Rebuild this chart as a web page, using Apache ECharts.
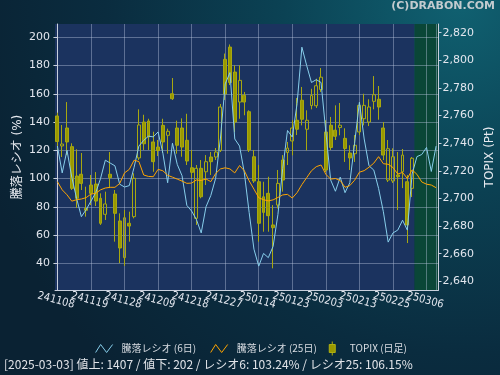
<!DOCTYPE html>
<html><head><meta charset="utf-8">
<script src="https://cdn.jsdelivr.net/npm/echarts@6/dist/echarts.min.js"></script>
<style>html,body{margin:0;padding:0;background:#0a2233;}#c{width:500px;height:375px;}</style>
</head><body><div id="c"></div>
<script>
const categories = ['241108','241111','241112','241113','241114','241115','241118','241119','241120','241121',
'241122','241125','241126','241127','241128','241129','241202','241203','241204','241205',
'241206','241209','241210','241211','241212','241213','241216','241217','241218','241219',
'241220','241223','241224','241225','241226','241227','241230','250106','250107','250108',
'250109','250110','250114','250115','250116','250117','250120','250121','250122','250123',
'250124','250127','250128','250129','250130','250131','250203','250204','250205','250206',
'250207','250210','250212','250213','250214','250217','250218','250219','250220','250221',
'250225','250226','250227','250228','250303','250304','250305','250306','250307','250310'];

const ratio6 = [123,104,120,101,86,73,78,84,90,100,
113,111,109,96,94,95,108,123,127,130,
129.5,133,118,97,125,110,102,81,77,71,
61.5,80,88,100,128,167,175,128,123,104,
76,50,38,47,44,52,74.5,107,134,129.4,
153,193,180,168,170,168,133,99,91,101,
90,97,125,154,128,109,106,93,76.5,55,
61.5,63.5,70.5,63.5,103.24,115.5,117,122,105,123];

const ratio25 = [97.8,92,88.5,84,85,85.5,86.5,89,89.5,92,
93.3,93.8,93.8,96.5,104,106.5,113,112,102.5,101.5,
101.3,106.5,105.5,102.3,101,99.6,98.2,96.6,96.8,99,
98.6,99.7,97.8,103.5,106.8,107.6,106.8,104,109.2,105.5,
98.4,92.5,86.4,85,84.2,84.9,86.6,88.4,88.8,86.2,
90,95.7,100.6,105.5,108.4,109.6,103,99.6,100,98.6,
93.8,95,98.8,104.5,105.6,108,110.9,115.5,110.5,110.1,
107.8,103.2,104.3,100,106.15,103,97.6,96,95.4,93.5];

const topixOpen = [2759.7,2738.0,2751.0,2737.5,2716.2,2717.5,2692.8,2709.7,2710.4,2700.1,
2688.5,2717.5,2703.2,2683.7,2657.1,2682.0,2686.8,2729.3,2755.3,2756.1,
2740.9,2737.2,2752.9,2745.7,2775.8,2751.0,2751.0,2742.1,2722.2,2685.6,
2721.8,2719.3,2730.0,2730.0,2734.8,2800.7,2809.6,2791.5,2769.8,2774.7,
2762.8,2730.2,2712.1,2701.2,2703.7,2680.8,2695.2,2727.8,2733.3,2741.6,
2756.6,2771.1,2750.1,2767.3,2767.1,2778.9,2748.1,2753.0,2749.4,2751.3,
2743.5,2732.9,2732.4,2748.1,2757.7,2755.3,2770.3,2771.8,2751.0,2713.3,
2712.6,2717.0,2719.3,2712.1,2707.3];
const topixClose = [2741.2,2739.4,2740.9,2707.3,2700.1,2710.9,2691.4,2703.7,2698.1,2682.0,
2696.0,2715.0,2689.2,2664.1,2686.0,2680.0,2714.6,2753.2,2739.6,2744.5,
2726.6,2734.7,2740.9,2748.6,2772.2,2738.5,2737.2,2727.1,2718.9,2721.8,
2701.2,2726.6,2726.6,2733.6,2766.2,2775.6,2783.9,2755.3,2785.5,2769.8,
2735.1,2712.6,2682.0,2689.9,2687.5,2678.8,2710.9,2713.3,2736.5,2751.0,
2750.1,2757.3,2756.6,2774.5,2781.6,2787.8,2720.6,2736.9,2745.0,2753.0,
2736.1,2729.3,2738.5,2767.4,2767.4,2766.2,2775.1,2766.2,2731.4,2736.0,
2730.2,2715.7,2731.4,2680.8,2729.1];
const topixLow = [2735.1,2730.0,2731.4,2706.1,2693.1,2706.1,2686.8,2695.2,2694.5,2680.8,
2684.4,2707.5,2668.7,2653.2,2651.2,2668.7,2685.6,2727.8,2735.1,2735.1,
2719.3,2730.7,2732.9,2732.4,2771.3,2732.4,2730.2,2724.2,2714.8,2680.8,
2700.1,2709.7,2717.0,2727.8,2733.6,2771.3,2782.1,2748.1,2757.7,2760.2,
2733.6,2711.2,2668.7,2675.9,2675.9,2649.4,2692.8,2704.9,2724.2,2731.2,
2745.9,2752.9,2734.8,2764.5,2765.5,2777.1,2719.1,2735.1,2742.3,2745.7,
2726.4,2720.6,2726.4,2745.9,2752.9,2752.4,2764.5,2757.0,2727.8,2711.9,
2711.2,2691.6,2707.5,2667.7,2701.0];
const topixHigh = [2762.1,2753.2,2769.8,2739.9,2735.6,2732.9,2708.5,2717.0,2719.1,2703.7,
2704.9,2733.6,2706.1,2689.2,2691.6,2690.4,2718.2,2764.5,2760.6,2757.7,
2748.3,2742.3,2757.7,2750.5,2787.2,2756.3,2758.0,2761.3,2735.1,2724.2,
2727.8,2731.4,2733.6,2736.5,2768.4,2804.9,2811.5,2796.4,2796.4,2777.1,
2763.8,2735.1,2724.2,2712.1,2715.7,2695.2,2720.6,2731.4,2740.9,2756.6,
2772.7,2780.7,2763.8,2779.4,2786.7,2794.4,2756.6,2759.0,2767.4,2769.1,
2750.8,2738.5,2745.9,2769.8,2775.8,2771.8,2788.6,2781.4,2755.3,2742.3,
2736.3,2733.6,2735.8,2717.0,2730.0];

const seriesNames = ['騰落レシオ (6日)', '騰落レシオ (25日)', 'TOPIX (日足)'];
const leftAxisName = '騰落レシオ (%)';
const rightAxisName = 'TOPIX (Pt)';
const leftRange = [21.1, 209.4];
const rightRange = [2633.7, 2826.3];
const labelStep = 7;
const latestDate = '2025-03-03';
const advances = 1407;
const declines = 202;
const ratio6Latest = 103.24;
const ratio25Latest = 106.15;
const copyright = '(C)DRABON.COM';

const FONT = "'DejaVu Sans', 'Noto Sans CJK JP', sans-serif";
const CJK = "'Noto Sans CJK JP', 'DejaVu Sans', sans-serif";
const lastDataIndex = topixOpen.length - 1;
const candleData = topixOpen.map((o, i) => [o, topixClose[i], topixLow[i], topixHigh[i]]);
const infoText = '[' + latestDate + '] 値上: ' + advances + ' / 値下: ' + declines +
  ' / レシオ6: ' + ratio6Latest.toFixed(2) + '% / レシオ25: ' + ratio25Latest.toFixed(2) + '%';

const gridColor = 'rgba(185,198,222,0.42)';
const axisColor = '#c9d0dc';
const labelColor = '#e2e6ee';

const chart = echarts.init(document.getElementById('c'), null, {renderer: 'canvas'});
chart.setOption({
  animation: false,
  backgroundColor: {
    type: 'radial', x: 0.92, y: 0, r: 1.35,
    colorStops: [
      {offset: 0, color: '#106171'},
      {offset: 0.35, color: '#0b4254'},
      {offset: 0.7, color: '#0a2c3f'},
      {offset: 1, color: '#0a2233'}
    ]
  },
  grid: {left: 55, right: 61.5, top: 24, bottom: 85, containLabel: false, outerBoundsMode: 'none'},
  legend: {
    top: 336, left: 'center', itemGap: 12, itemWidth: 17, itemHeight: 14,
    textStyle: {color: '#d8dce2', fontSize: 10, fontFamily: CJK, padding: [0, 0, 0, 4]},
    data: [
      {name: seriesNames[0], icon: 'path://M0,9 L5,1 L11,9 L17,1',
       itemStyle: {color: 'none', borderColor: '#87CEEB', borderWidth: 1}},
      {name: seriesNames[1], icon: 'path://M0,9 L5,1 L11,9 L17,1',
       itemStyle: {color: 'none', borderColor: '#FFA500', borderWidth: 1}},
      {name: seriesNames[2], icon: 'path://M3,0 L3,3 M0,3 L6,3 L6,11 L0,11 Z M3,11 L3,14',
       itemStyle: {color: '#999900', borderColor: '#b0b010', borderWidth: 1}}
    ]
  },
  xAxis: [{
    type: 'category', data: categories, boundaryGap: true,
    axisLine: {lineStyle: {color: axisColor}},
    axisTick: {alignWithLabel: true, interval: labelStep - 1, length: 4, lineStyle: {color: axisColor}},
    axisLabel: {interval: 0, rotate: -15, align: 'center', verticalAlign: 'top', margin: 5, hideOverlap: false,
      formatter: (value, index) => (index % labelStep === 0 ? value : ''),
      color: labelColor, fontSize: 11, fontFamily: "'DejaVu Sans Condensed', 'DejaVu Sans', sans-serif"},
    splitLine: {show: true, interval: labelStep - 1, alignWithLabel: true, lineStyle: {color: gridColor, width: 1}}
  }, {
    type: 'value', min: -0.5, max: categories.length - 0.5, show: false
  }],
  yAxis: [{
    type: 'value', position: 'left', min: leftRange[0], max: leftRange[1], splitNumber: 9,
    name: leftAxisName, nameLocation: 'middle', nameGap: 31, nameMoveOverlap: false,
    nameTextStyle: {color: '#e6e9ef', fontSize: 12, fontFamily: FONT},
    axisLine: {show: true, lineStyle: {color: axisColor}},
    axisTick: {show: true, length: 4, lineStyle: {color: axisColor}},
    axisLabel: {color: labelColor, fontSize: 11, fontFamily: FONT, margin: 5, showMinLabel: false, showMaxLabel: false},
    splitLine: {show: true, showMinLine: false, showMaxLine: false, lineStyle: {color: gridColor, width: 1}}
  }, {
    type: 'value', position: 'right', min: rightRange[0], max: rightRange[1], splitNumber: 10,
    name: rightAxisName, nameLocation: 'middle', nameGap: 45, nameMoveOverlap: false,
    nameTextStyle: {color: '#e6e9ef', fontSize: 12, fontFamily: FONT},
    axisLine: {show: true, lineStyle: {color: axisColor}},
    axisTick: {show: true, length: 3, lineStyle: {color: axisColor}},
    axisLabel: {color: labelColor, fontSize: 11, fontFamily: FONT, margin: 4, showMinLabel: false, showMaxLabel: false},
    splitLine: {show: false}
  }],
  series: [{
    name: 'bg', type: 'line', xAxisIndex: 1, yAxisIndex: 0, data: [], silent: true, z: -1,
    markArea: {
      silent: true, z: -1,
      data: [
        [{xAxis: -0.5, itemStyle: {color: '#1b335f'}}, {xAxis: lastDataIndex + 0.5}],
        [{xAxis: lastDataIndex + 0.5, itemStyle: {color: '#0a4637'}}, {xAxis: categories.length - 0.5}]
      ]
    }
  }, {
    name: seriesNames[2], type: 'candlestick', xAxisIndex: 0, yAxisIndex: 1,
    data: candleData, barWidth: 3.4,
    itemStyle: {color: 'transparent', color0: '#999900', borderColor: '#a8a810', borderColor0: '#a8a810', borderWidth: 1}
  }, {
    name: seriesNames[0], type: 'line', xAxisIndex: 0, yAxisIndex: 0, data: ratio6,
    symbol: 'none', lineStyle: {color: '#87CEEB', width: 1}, itemStyle: {color: '#87CEEB'}
  }, {
    name: seriesNames[1], type: 'line', xAxisIndex: 0, yAxisIndex: 0, data: ratio25,
    symbol: 'none', lineStyle: {color: '#FFA500', width: 1}, itemStyle: {color: '#FFA500'}
  }],
  graphic: [
    {type: 'text', right: 5, top: 1, style: {text: copyright, fill: '#c3cbcf', font: "bold 11px 'DejaVu Sans'"}},
    {type: 'text', left: 4, top: 358, style: {text: infoText, fill: '#e0e3e8', font: "12px 'Noto Sans CJK JP'"}}
  ]
});
</script></body></html>
